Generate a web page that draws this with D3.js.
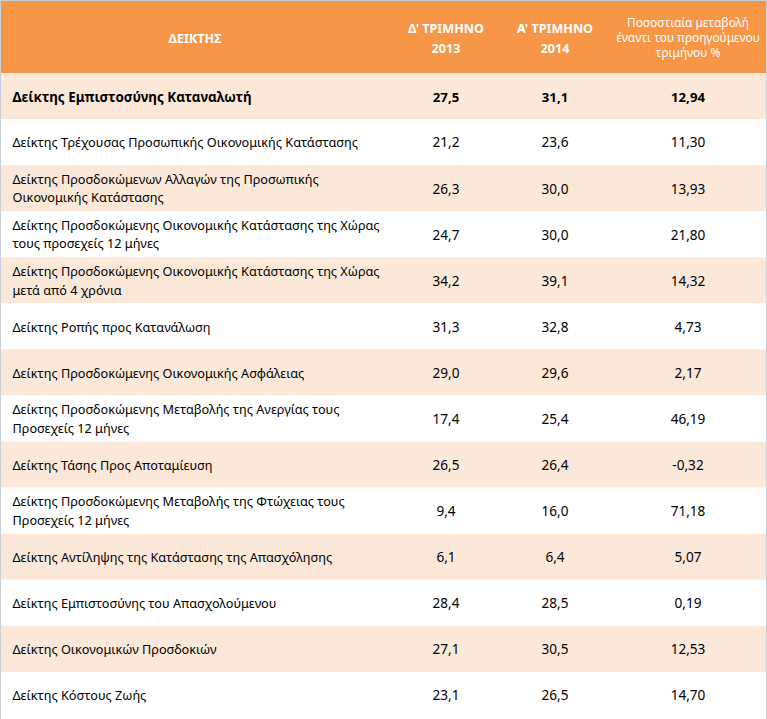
<!DOCTYPE html>
<html><head><meta charset="utf-8">
<script src="https://cdn.jsdelivr.net/npm/d3@7"></script>
<style>
html,body{margin:0;padding:0;background:#fff;}
svg{display:block;}
text{font-family:"Noto Sans","DejaVu Sans",sans-serif;}
</style></head>
<body><svg id="c" width="767" height="719"></svg>
<script>
// ---- data ----
const headers = ["ΔΕΙΚΤΗΣ", "Δ' ΤΡΙΜΗΝΟ|2013", "Α' ΤΡΙΜΗΝΟ|2014", "Ποσοστιαία μεταβολή|έναντι του προηγούμενου|τριμήνου %"];
const indicators = [
  "Δείκτης Εμπιστοσύνης Καταναλωτή",
  "Δείκτης Τρέχουσας Προσωπικής Οικονομικής Κατάστασης",
  "Δείκτης Προσδοκώμενων Αλλαγών της Προσωπικής|Οικονομικής Κατάστασης",
  "Δείκτης Προσδοκώμενης Οικονομικής Κατάστασης της Χώρας|τους προσεχείς 12 μήνες",
  "Δείκτης Προσδοκώμενης Οικονομικής Κατάστασης της Χώρας|μετά από 4 χρόνια",
  "Δείκτης Ροπής προς Κατανάλωση",
  "Δείκτης Προσδοκώμενης Οικονομικής Ασφάλειας",
  "Δείκτης Προσδοκώμενης Μεταβολής της Ανεργίας τους|Προσεχείς 12 μήνες",
  "Δείκτης Τάσης Προς Αποταμίευση",
  "Δείκτης Προσδοκώμενης Μεταβολής της Φτώχειας τους|Προσεχείς 12 μήνες",
  "Δείκτης Αντίληψης της Κατάστασης της Απασχόλησης",
  "Δείκτης Εμπιστοσύνης του Απασχολούμενου",
  "Δείκτης Οικονομικών Προσδοκιών",
  "Δείκτης Κόστους Ζωής"
];
const q4_2013 = [27.5, 21.2, 26.3, 24.7, 34.2, 31.3, 29.0, 17.4, 26.5, 9.4, 6.1, 28.4, 27.1, 23.1];
const q1_2014 = [31.1, 23.6, 30.0, 30.0, 39.1, 32.8, 29.6, 25.4, 26.4, 16.0, 6.4, 28.5, 30.5, 26.5];
const pctChange = [12.94, 11.30, 13.93, 21.80, 14.32, 4.73, 2.17, 46.19, -0.32, 71.18, 5.07, 0.19, 12.53, 14.70];

// ---- layout ----
const W = 767, H = 719;
const headerH = 73;
const colCenters = [195, 446, 555, 688];
const textLeft = 12.5;
const orange = "#F79646", band = "#FCE8D9", borderCol = "#c9d0da";

const loc = d3.formatLocale({decimal: ",", thousands: ".", grouping: [3], currency: ["", "€"], minus: "-"});
const f1 = loc.format(".1f"), f2 = loc.format(".2f");

const rows = indicators.map((name, i) => ({
  lines: name.split("|"), vals: [f1(q4_2013[i]), f1(q1_2014[i]), f2(pctChange[i])], i
}));

const svg = d3.select("#c");
const y = d3.scaleBand().domain(d3.range(rows.length)).range([headerH, 718]);
const col = d3.scaleOrdinal().domain(d3.range(4)).range(colCenters);

// header
svg.append("rect").attr("x", 0).attr("y", 0).attr("width", W).attr("height", headerH).attr("fill", orange);

const hdr = svg.append("g").attr("fill", "#fff").attr("text-anchor", "middle");
const hdrBaselines = [[43], [33.4, 53.4], [33.4, 53.4], [26.6, 41.8, 57]];
headers.forEach((h, k) => {
  const small = k === 3;
  const t = hdr.append("text").attr("x", col(k))
    .attr("font-size", small ? 11.9 : 12.6).attr("font-weight", small ? 400 : 700);
  h.split("|").forEach((ln, j) => {
    t.append("tspan").attr("x", col(k)).attr("y", hdrBaselines[k][j]).text(ln);
  });
});

// rows
const g = svg.selectAll("g.row").data(rows).join("g").attr("class", "row")
  .attr("transform", d => `translate(0,${y(d.i)})`);
g.append("rect").attr("x", 0).attr("width", W).attr("height", y.bandwidth())
  .attr("fill", d => d.i % 2 === 0 ? band : "#fff");

g.each(function(d) {
  const sel = d3.select(this);
  const bold = d.i === 0;
  const cy = y.bandwidth() / 2;
  const t = sel.append("text").attr("x", textLeft).attr("font-size", bold ? 13.4 : 12.7)
    .attr("font-weight", bold ? 700 : 400).attr("fill", "#000");
  const n = d.lines.length;
  d.lines.forEach((ln, j) => {
    const base = n === 1 ? cy + (bold ? 5.8 : 5.3) : cy + 5 + (j - 0.5) * 18.5;
    t.append("tspan").attr("x", textLeft).attr("y", base).text(ln);
  });
  sel.selectAll("text.v").data(d.vals).join("text").attr("class", "v")
    .attr("x", (v, k) => col(k + 1)).attr("y", cy + (bold ? 6 : 5.4))
    .attr("text-anchor", "middle").attr("font-size", bold ? 13.2 : 13.6)
    .attr("font-weight", bold ? 700 : 400).attr("fill", "#000").text(v => v);
});

// outer border
svg.append("line").attr("x1", 0).attr("x2", W).attr("y1", 0.5).attr("y2", 0.5).attr("stroke", borderCol);
svg.append("line").attr("x1", 0.5).attr("x2", 0.5).attr("y1", 0).attr("y2", H).attr("stroke", borderCol);
svg.append("line").attr("x1", W - 0.5).attr("x2", W - 0.5).attr("y1", 0).attr("y2", H).attr("stroke", borderCol);
</script></body></html>
